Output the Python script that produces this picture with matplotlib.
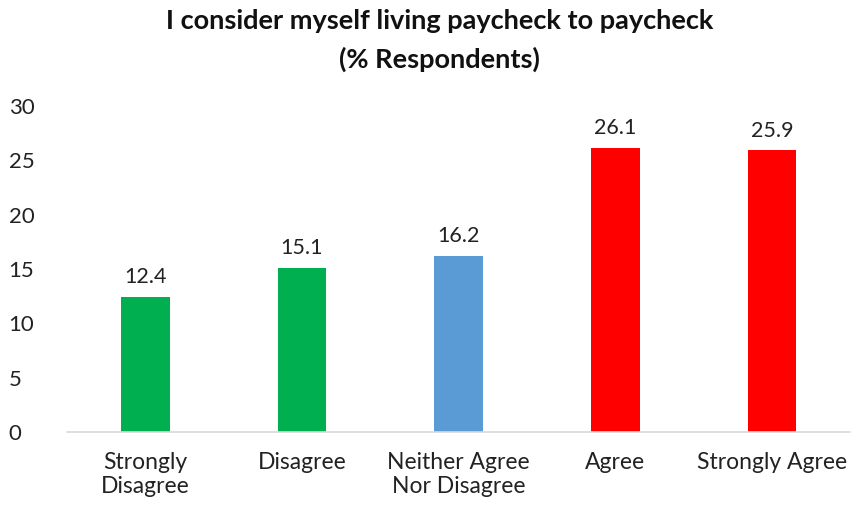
import numpy as np
import matplotlib.pyplot as plt

# survey answers, % of respondents
categories = ['Strongly\nDisagree', 'Disagree', 'Neither Agree\nNor Disagree', 'Agree', 'Strongly Agree']
values = [12.4, 15.1, 16.2, 26.1, 25.9]
colors = ['#00B050', '#00B050', '#5B9BD5', '#FF0000', '#FF0000']

plt.rcParams['font.family'] = ['Lato', 'DejaVu Sans']

fig = plt.figure(figsize=(8.59, 5.09), dpi=100)
ax = fig.add_axes([0.078, 0.151, 0.912, 0.641])

x = np.arange(len(categories))
bars = ax.bar(x, values, width=0.31, color=colors)
for b, v in zip(bars, values):
    ax.text(b.get_x() + b.get_width() / 2, v + 0.9, f'{v:.1f}',
            ha='center', va='bottom', fontsize=15.5, color='#222222')

ax.set_xlim(-0.5, len(categories) - 0.5)
ax.set_ylim(0, 30)
ax.set_yticks(range(0, 31, 5))
ax.set_xticks(x)
ax.set_xticklabels(categories, fontsize=16.5, color='#222222', linespacing=1.2)
ax.tick_params(axis='y', labelsize=16, colors='#222222', length=0, pad=42)
ax.tick_params(axis='x', length=0, pad=14)
for lab in ax.get_yticklabels():
    lab.set_horizontalalignment('left')

for s in ['top', 'right', 'left']:
    ax.spines[s].set_visible(False)
ax.spines['bottom'].set_color('#D9D9D9')
ax.spines['bottom'].set_linewidth(1.2)

fig.suptitle('I consider myself living paycheck to paycheck\n(% Respondents)',
             x=0.512, y=0.983, fontsize=19.5, fontweight='bold', color='#111111',
             linespacing=1.65)

fig.savefig('out.png', dpi=100)
